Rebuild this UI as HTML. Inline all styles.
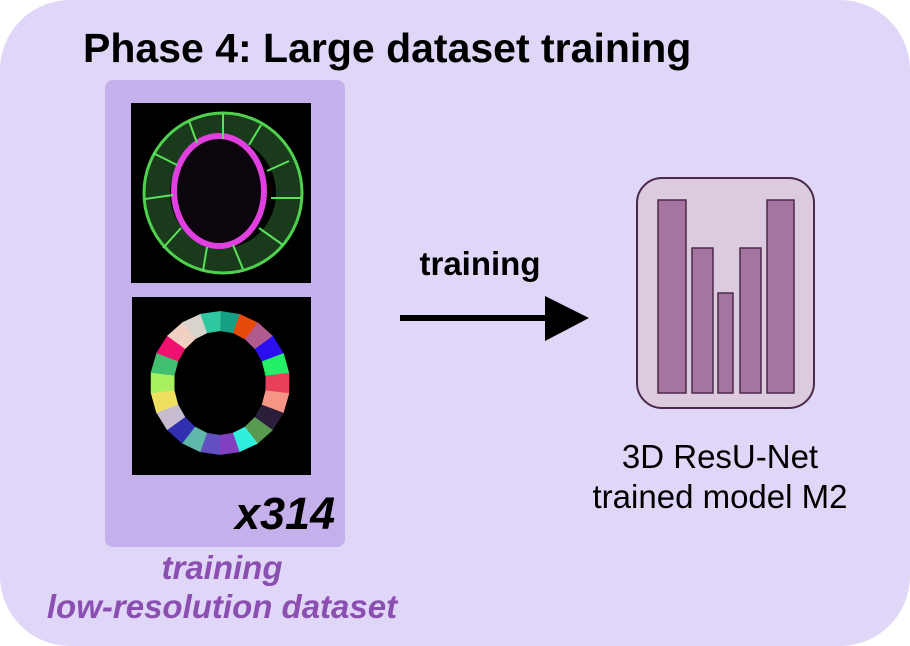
<!DOCTYPE html>
<html><head><meta charset="utf-8">
<style>
html,body{margin:0;padding:0;background:#fff;}
body{width:910px;height:646px;position:relative;overflow:hidden;font-family:"Liberation Sans",sans-serif;}
.t{position:absolute;white-space:nowrap;}
</style></head>
<body>
<div style="position:absolute;left:0;top:0;width:910px;height:646px;background:#e0d6f8;border-radius:70px;"></div>
<div class="t" style="left:83px;top:25px;font-size:41px;font-weight:bold;color:#000;">Phase 4: Large dataset training</div>
<div style="position:absolute;left:105px;top:80px;width:240px;height:467px;background:#c4b0ea;border-radius:8px;"></div>

<svg style="position:absolute;left:131px;top:103px" width="180" height="180">
<rect width="180" height="180" fill="#000"/>
<ellipse cx="92" cy="90" rx="66" ry="68" fill="none" stroke="#1f4a22" stroke-width="26" opacity="0.8"/>
<ellipse cx="92" cy="90" rx="79" ry="80" fill="none" stroke="#4fd04f" stroke-width="3"/>
<ellipse cx="88" cy="88" rx="45" ry="55" fill="#0d050d" stroke="#e040e0" stroke-width="6"/>
<g stroke="#5be05b" stroke-width="2">
<line x1="92" y1="11" x2="92" y2="36"/><line x1="130" y1="22" x2="118" y2="42"/><line x1="158" y1="58" x2="136" y2="68"/>
<line x1="170" y1="95" x2="140" y2="95"/><line x1="152" y1="142" x2="128" y2="125"/><line x1="112" y1="166" x2="102" y2="142"/>
<line x1="72" y1="168" x2="76" y2="144"/><line x1="32" y1="145" x2="50" y2="125"/><line x1="14" y1="96" x2="42" y2="92"/>
<line x1="22" y1="50" x2="46" y2="62"/><line x1="58" y1="18" x2="66" y2="40"/>
</g>
</svg>

<svg id="seg" style="position:absolute;left:132px;top:297px" width="179" height="178"><rect width="179" height="178" fill="#000"/></svg>

<div class="t" style="left:235px;top:488px;font-size:45px;font-weight:bold;font-style:italic;color:#000;">x314</div>
<div class="t" style="left:0;width:444px;top:548px;text-align:center;font-size:33px;font-weight:bold;font-style:italic;color:#8a4fb0;line-height:39px;">training<br>low-resolution dataset</div>

<div class="t" style="left:400px;width:160px;text-align:center;top:245px;font-size:33px;font-weight:bold;color:#000;">training</div>
<svg style="position:absolute;left:395px;top:290px" width="200" height="60">
<line x1="5" y1="28" x2="155" y2="28" stroke="#000" stroke-width="6"/>
<polygon points="150,6 194,28 150,51" fill="#000"/>
</svg>

<svg id="model" style="position:absolute;left:630px;top:172px" width="200" height="245">
<rect x="7" y="6" width="177" height="230" rx="25" fill="#dccbdf" stroke="#4a2a4a" stroke-width="2"/>
</svg>

<div class="t" style="left:570px;width:300px;text-align:center;top:437px;font-size:33px;color:#000;line-height:40px;">3D ResU-Net<br>trained model M2</div>

<script>
// model icon bars (relative heights)
var barValues = [193, 145, 100, 145, 193];
var barWidths = [28, 21, 15, 21, 27];
var barGaps = [0, 6, 5, 7, 6];
var svgNS = "http://www.w3.org/2000/svg";
var model = document.getElementById('model');
var baseY = 393 - 172, x = 658 - 630;
function yScale(v){ return baseY - v; }
for (var i = 0; i < barValues.length; i++) {
  x += barGaps[i];
  var r = document.createElementNS(svgNS, 'rect');
  r.setAttribute('x', x); r.setAttribute('y', yScale(barValues[i]));
  r.setAttribute('width', barWidths[i]); r.setAttribute('height', barValues[i]);
  r.setAttribute('fill', '#a5749f'); r.setAttribute('stroke', '#4a2a4a'); r.setAttribute('stroke-width', '1.5');
  
  
  model.appendChild(r);
  x += barWidths[i];
}
// segmentation ring
var segColors = ['#15a085','#e84a0a','#b05a90','#2a10f0','#22ee66','#e8405a','#f59585','#2a1e3a','#5a9a50','#30f0dd','#8040c0','#6050c0','#60b8aa','#3030b0','#c8bcd0','#f0e060','#a8f060','#40c070','#f01070','#f0d0c0','#d8d4cc','#30c8a0'];
var seg = document.getElementById('seg');
var cx = 88, cy = 86, rx1 = 70, ry1 = 72, rx2 = 46, ry2 = 52;
var n = segColors.length;
for (var k = 0; k < n; k++) {
  var a0 = -Math.PI/2 + k*2*Math.PI/n, a1 = a0 + 2*Math.PI/n + 0.01;
  var p = 'M'+(cx+rx1*Math.cos(a0))+','+(cy+ry1*Math.sin(a0))+' L'+(cx+rx1*Math.cos(a1))+','+(cy+ry1*Math.sin(a1))+' L'+(cx+rx2*Math.cos(a1))+','+(cy+ry2*Math.sin(a1))+' L'+(cx+rx2*Math.cos(a0))+','+(cy+ry2*Math.sin(a0))+'Z';
  var path = document.createElementNS(svgNS, 'path');
  path.setAttribute('d', p); path.setAttribute('fill', segColors[k]);
  
  
  seg.appendChild(path);
}
</script>
</body></html>
